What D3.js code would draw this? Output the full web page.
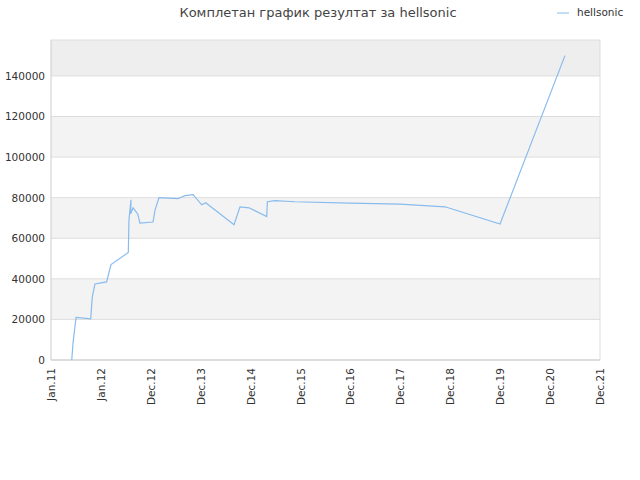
<!DOCTYPE html>
<html><head><meta charset="utf-8">
<script src="https://cdn.jsdelivr.net/npm/d3@7"></script>
<style>body{margin:0;background:#fff;font-family:"DejaVu Sans",sans-serif;}</style>
</head><body><div id="chart"></div>
<script>
var tickLabels = ["Jan.11","Jan.12","Dec.12","Dec.13","Dec.14","Dec.15","Dec.16","Dec.17","Dec.18","Dec.19","Dec.20","Dec.21"];
// x positions in tick units (0 = Jan.11, 11 = Dec.21)
var pos = [0.416,0.441,0.502,0.795,0.827,0.881,1.114,1.202,1.549,1.562,1.603,1.596,1.643,1.737,1.783,2.044,2.085,2.164,2.544,2.685,2.846,3.02,3.1,3.667,3.787,3.968,4.322,4.335,4.488,4.888,5.991,6.993,7.895,8.997,10.298];
var vals = [0,8400,21000,20300,31000,37500,38500,47000,53000,69000,79000,72000,75000,72000,67500,68000,74000,80000,79500,81000,81500,76500,77500,66700,75500,75000,70700,78000,78500,78000,77300,76800,75500,67000,150000];

var W = 640, H = 480, m = {l:51, r:40, t:40, b:120};
var svg = d3.select("#chart").append("svg").attr("width", W).attr("height", H);
var x = d3.scaleLinear().domain([0, 11]).range([m.l, W - m.r]);
var y = d3.scaleLinear().domain([0, 157700]).range([H - m.b, m.t]);

var yt = d3.range(0, 160000, 20000);
yt.forEach(function (v, i) {
    var top = Math.max(y(v + 20000), m.t);
    if (i % 2 == 1 || v + 20000 > 157700) {
        svg.append("rect").attr("x", m.l).attr("width", W - m.r - m.l)
            .attr("y", top).attr("height", y(v) - top)
            .attr("fill", v + 20000 > 157700 ? "#eeeeee" : "#f3f3f3");
    }
    svg.append("line").attr("x1", m.l).attr("x2", W - m.r)
        .attr("y1", y(v)).attr("y2", y(v)).attr("stroke", "#dddddd");
    svg.append("text").attr("x", m.l - 6).attr("y", y(v) + 4)
        .attr("text-anchor", "end").attr("font-size", 10.5).attr("fill", "#333").text(v);
});
svg.append("line").attr("x1", m.l).attr("x2", m.l).attr("y1", m.t).attr("y2", H - m.b).attr("stroke", "#ccc");
svg.append("line").attr("x1", W - m.r).attr("x2", W - m.r).attr("y1", m.t).attr("y2", H - m.b).attr("stroke", "#ddd");
svg.append("line").attr("x1", m.l).attr("x2", W - m.r).attr("y1", m.t).attr("y2", m.t).attr("stroke", "#ddd");
svg.append("line").attr("x1", m.l).attr("x2", W - m.r).attr("y1", H - m.b).attr("y2", H - m.b).attr("stroke", "#ccc");

tickLabels.forEach(function (t, i) {
    var xx = x(i);
    svg.append("text").attr("transform", "translate(" + (xx + 4) + "," + (H - m.b + 8) + ") rotate(-90)")
        .attr("text-anchor", "end").attr("font-size", 10.5).attr("fill", "#333").text(t);
});

var line = d3.line().x(function (d) { return x(d[0]); }).y(function (d) { return y(d[1]); });
svg.append("path").datum(d3.zip(pos, vals)).attr("d", line)
    .attr("fill", "none").attr("stroke", "#88bbee").attr("stroke-width", 1.2);

svg.append("text").attr("x", 318).attr("y", 17).attr("text-anchor", "middle")
    .attr("font-size", 13).attr("fill", "#444").text("Комплетан график резултат за hellsonic");
svg.append("line").attr("x1", 557).attr("x2", 569).attr("y1", 13).attr("y2", 13).attr("stroke", "#88bbee");
svg.append("text").attr("x", 577).attr("y", 16).attr("font-size", 10.5).attr("fill", "#333").text("hellsonic");
</script></body></html>
